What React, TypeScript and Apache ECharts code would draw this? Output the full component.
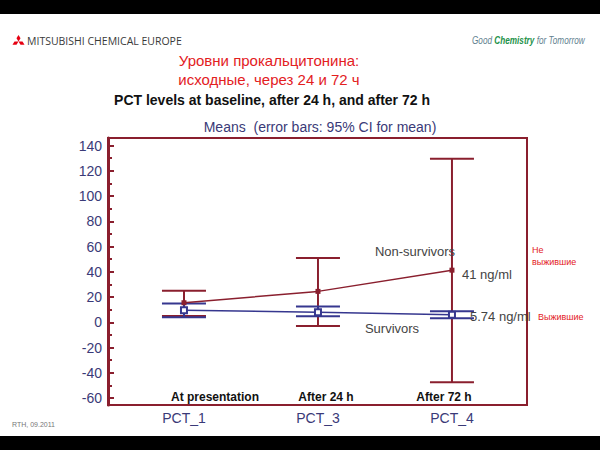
import React, { useEffect, useRef } from "react";
import * as echarts from "echarts";

const categories = ["PCT_1", "PCT_3", "PCT_4"];
const timeLabels = ["At presentation", "After 24 h", "After 72 h"];
const nonSurvMean = [15.5, 24.5, 41.3];
const nonSurvLow = [5, -3, -47.5];
const nonSurvHigh = [25, 51, 129.5];
const survMean = [9.5, 8, 6];
const survLow = [4, 4.8, 3.2];
const survHigh = [15, 12.5, 8.8];
const yMajorTicks = [-60, -40, -20, 0, 20, 40, 60, 80, 100, 120, 140];
const yMinorTicks = [-50, -30, -10, 10, 30, 50, 70, 90, 110, 130];

const MAROON = "#8a1f2e";
const BLUE = "#36378f";
const NAVY = "#3a3a78";
const FONT = "Arial, Liberation Sans, sans-serif";

function errorBarSeries(name: string, low: number[], high: number[], color: string, width: number) {
  return {
    type: "custom",
    name,
    z: 1,
    data: low.map((l, i) => [i, l, high[i]]),
    renderItem: (params: any, api: any) => {
      const x = api.value(0);
      const lo = api.coord([x, api.value(1)]);
      const hi = api.coord([x, api.value(2)]);
      const hw = 22;
      const style = { stroke: color, lineWidth: width };
      return {
        type: "group",
        children: [
          { type: "line", shape: { x1: lo[0], y1: lo[1], x2: hi[0], y2: hi[1] }, style },
          { type: "line", shape: { x1: lo[0] - hw, y1: lo[1], x2: lo[0] + hw, y2: lo[1] }, style },
          { type: "line", shape: { x1: hi[0] - hw, y1: hi[1], x2: hi[0] + hw, y2: hi[1] }, style },
        ],
      };
    },
  };
}

function diamond(cx: number, cy: number, v1: number[], v2: number[]) {
  return {
    type: "polygon",
    shape: {
      points: [
        [cx, cy],
        [cx + v1[0], cy + v1[1]],
        [cx + v1[0] + v2[0], cy + v1[1] + v2[1]],
        [cx + v2[0], cy + v2[1]],
      ],
    },
    style: { fill: "#e60012" },
  };
}

export default function App() {
  const ref = useRef<HTMLDivElement>(null);
  useEffect(() => {
    if (!ref.current) return;
    const chart = echarts.init(ref.current, null, { renderer: "svg" });
    const cx = 18.5;
    const cy = 41.5;
    const option: any = {
      animation: false,
      backgroundColor: "#ffffff",
      grid: {
        left: 108,
        top: 138,
        right: 73,
        bottom: 45,
        show: true,
        borderColor: MAROON,
        borderWidth: 2,
        backgroundColor: "transparent",
      },
      xAxis: {
        type: "value",
        min: -0.567,
        max: 2.56,
        splitLine: { show: false },
        axisLine: { show: true, onZero: false, lineStyle: { color: MAROON, width: 2 } },
        axisTick: { show: false },
        axisLabel: {
          customValues: [0, 1, 2],
          formatter: (v: number) => categories[Math.round(v)] ?? "",
          color: NAVY,
          fontSize: 14,
          fontFamily: FONT,
          margin: 6,
        },
      },
      yAxis: [
        {
          type: "value",
          min: -65.5,
          max: 146,
          splitLine: { show: false },
          axisLine: { show: true, onZero: false, lineStyle: { color: MAROON, width: 3 } },
          axisTick: {
            show: true,
            inside: true,
            length: 6,
            customValues: yMajorTicks,
            lineStyle: { color: MAROON, width: 2 },
          },
          axisLabel: {
            customValues: yMajorTicks,
            color: NAVY,
            fontSize: 14,
            fontFamily: FONT,
            margin: 6,
          },
        },
        {
          type: "value",
          position: "left",
          min: -65.5,
          max: 146,
          splitLine: { show: false },
          axisLine: { show: false, onZero: false },
          axisTick: {
            show: true,
            inside: true,
            length: 4,
            customValues: yMinorTicks,
            lineStyle: { color: MAROON, width: 2 },
          },
          axisLabel: { show: false },
        },
      ],
      series: [
        errorBarSeries("ns-err", nonSurvLow, nonSurvHigh, MAROON, 2),
        errorBarSeries("s-err", survLow, survHigh, BLUE, 2),
        {
          type: "line",
          name: "Non-survivors",
          z: 3,
          data: nonSurvMean.map((v, i) => [i, v]),
          lineStyle: { color: MAROON, width: 1.5 },
          symbol: "rect",
          symbolSize: 5,
          itemStyle: { color: MAROON },
        },
        {
          type: "line",
          name: "Survivors",
          z: 4,
          data: survMean.map((v, i) => [i, v]),
          lineStyle: { color: BLUE, width: 1.5 },
          symbol: "rect",
          symbolSize: 6,
          itemStyle: { color: "#ffffff", borderColor: BLUE, borderWidth: 2 },
        },
      ],
      graphic: [
        { type: "rect", shape: { x: 0, y: 0, width: 600, height: 14 }, style: { fill: "#000" } },
        { type: "rect", shape: { x: 0, y: 436, width: 600, height: 14 }, style: { fill: "#000" } },
        diamond(cx, cy, [2, -3.3], [-2, -3.3]),
        diamond(cx, cy, [4, 0], [2, 3.3]),
        diamond(cx, cy, [-4, 0], [-2, 3.3]),
        {
          type: "text",
          x: 27,
          y: 41,
          style: {
            text: "MITSUBISHI CHEMICAL EUROPE",
            fill: "#3a3a3a",
            fontSize: 10.5,
            fontFamily: "Open Sans, Arial, sans-serif",
            verticalAlign: "middle",
          },
        },
        {
          type: "text",
          x: 472,
          y: 41,
          scaleX: 0.82,
          style: {
            text: "{a|Good }{b|Chemistry}{a| for Tomorrow}",
            verticalAlign: "middle",
            rich: {
              a: { fill: "#5f7f8f", fontSize: 10, fontStyle: "italic", fontFamily: FONT },
              b: { fill: "#23924a", fontSize: 10, fontStyle: "italic", fontWeight: "bold", fontFamily: FONT },
            },
          },
        },
        {
          type: "text",
          x: 269,
          y: 60,
          style: {
            text: "Уровни прокальцитонина:",
            fill: "#e3201e",
            fontSize: 15,
            fontFamily: FONT,
            align: "center",
            verticalAlign: "middle",
          },
        },
        {
          type: "text",
          x: 269,
          y: 79,
          style: {
            text: "исходные, через 24 и 72 ч",
            fill: "#e3201e",
            fontSize: 15,
            fontFamily: FONT,
            align: "center",
            verticalAlign: "middle",
          },
        },
        {
          type: "text",
          x: 272,
          y: 100,
          style: {
            text: "PCT levels at baseline, after 24 h, and after 72 h",
            fill: "#111",
            fontSize: 14,
            fontWeight: "bold",
            fontFamily: FONT,
            align: "center",
            verticalAlign: "middle",
          },
        },
        {
          type: "text",
          x: 320,
          y: 127,
          style: {
            text: "Means  (error bars: 95% CI for mean)",
            fill: NAVY,
            fontSize: 14,
            fontFamily: FONT,
            align: "center",
            verticalAlign: "middle",
          },
        },
        ...timeLabels.map((t, i) => ({
          type: "text",
          x: [215, 326, 444][i],
          y: 397,
          z: 10,
          style: {
            text: t,
            fill: "#111",
            fontSize: 12,
            fontWeight: "bold",
            fontFamily: FONT,
            align: "center",
            verticalAlign: "middle",
          },
        })),
        {
          type: "text",
          x: 415,
          y: 251,
          z: 10,
          style: { text: "Non-survivors", fill: "#444", fontSize: 13, fontFamily: FONT, align: "center", verticalAlign: "middle" },
        },
        {
          type: "text",
          x: 462,
          y: 274,
          z: 10,
          style: { text: "41 ng/ml", fill: "#444", fontSize: 13, fontFamily: FONT, align: "left", verticalAlign: "middle" },
        },
        {
          type: "text",
          x: 470,
          y: 316,
          z: 10,
          style: { text: "5.74 ng/ml", fill: "#444", fontSize: 13, fontFamily: FONT, align: "left", verticalAlign: "middle" },
        },
        {
          type: "text",
          x: 392,
          y: 328,
          z: 10,
          style: { text: "Survivors", fill: "#444", fontSize: 13, fontFamily: FONT, align: "center", verticalAlign: "middle" },
        },
        {
          type: "text",
          x: 532,
          y: 250,
          style: { text: "Не", fill: "#e3201e", fontSize: 9, fontFamily: FONT, verticalAlign: "middle" },
        },
        {
          type: "text",
          x: 532,
          y: 262,
          style: { text: "выжившие", fill: "#e3201e", fontSize: 9, fontFamily: FONT, verticalAlign: "middle" },
        },
        {
          type: "text",
          x: 538,
          y: 317,
          style: { text: "Выжившие", fill: "#e3201e", fontSize: 9, fontFamily: FONT, verticalAlign: "middle" },
        },
        {
          type: "text",
          x: 12,
          y: 424,
          style: { text: "RTH, 09.2011", fill: "#777", fontSize: 7, fontFamily: FONT, verticalAlign: "middle" },
        },
      ],
    };
    chart.setOption(option);
    return () => chart.dispose();
  }, []);
  return <div ref={ref} style={{ width: 600, height: 450, position: "absolute", left: 0, top: 0 }} />;
}
